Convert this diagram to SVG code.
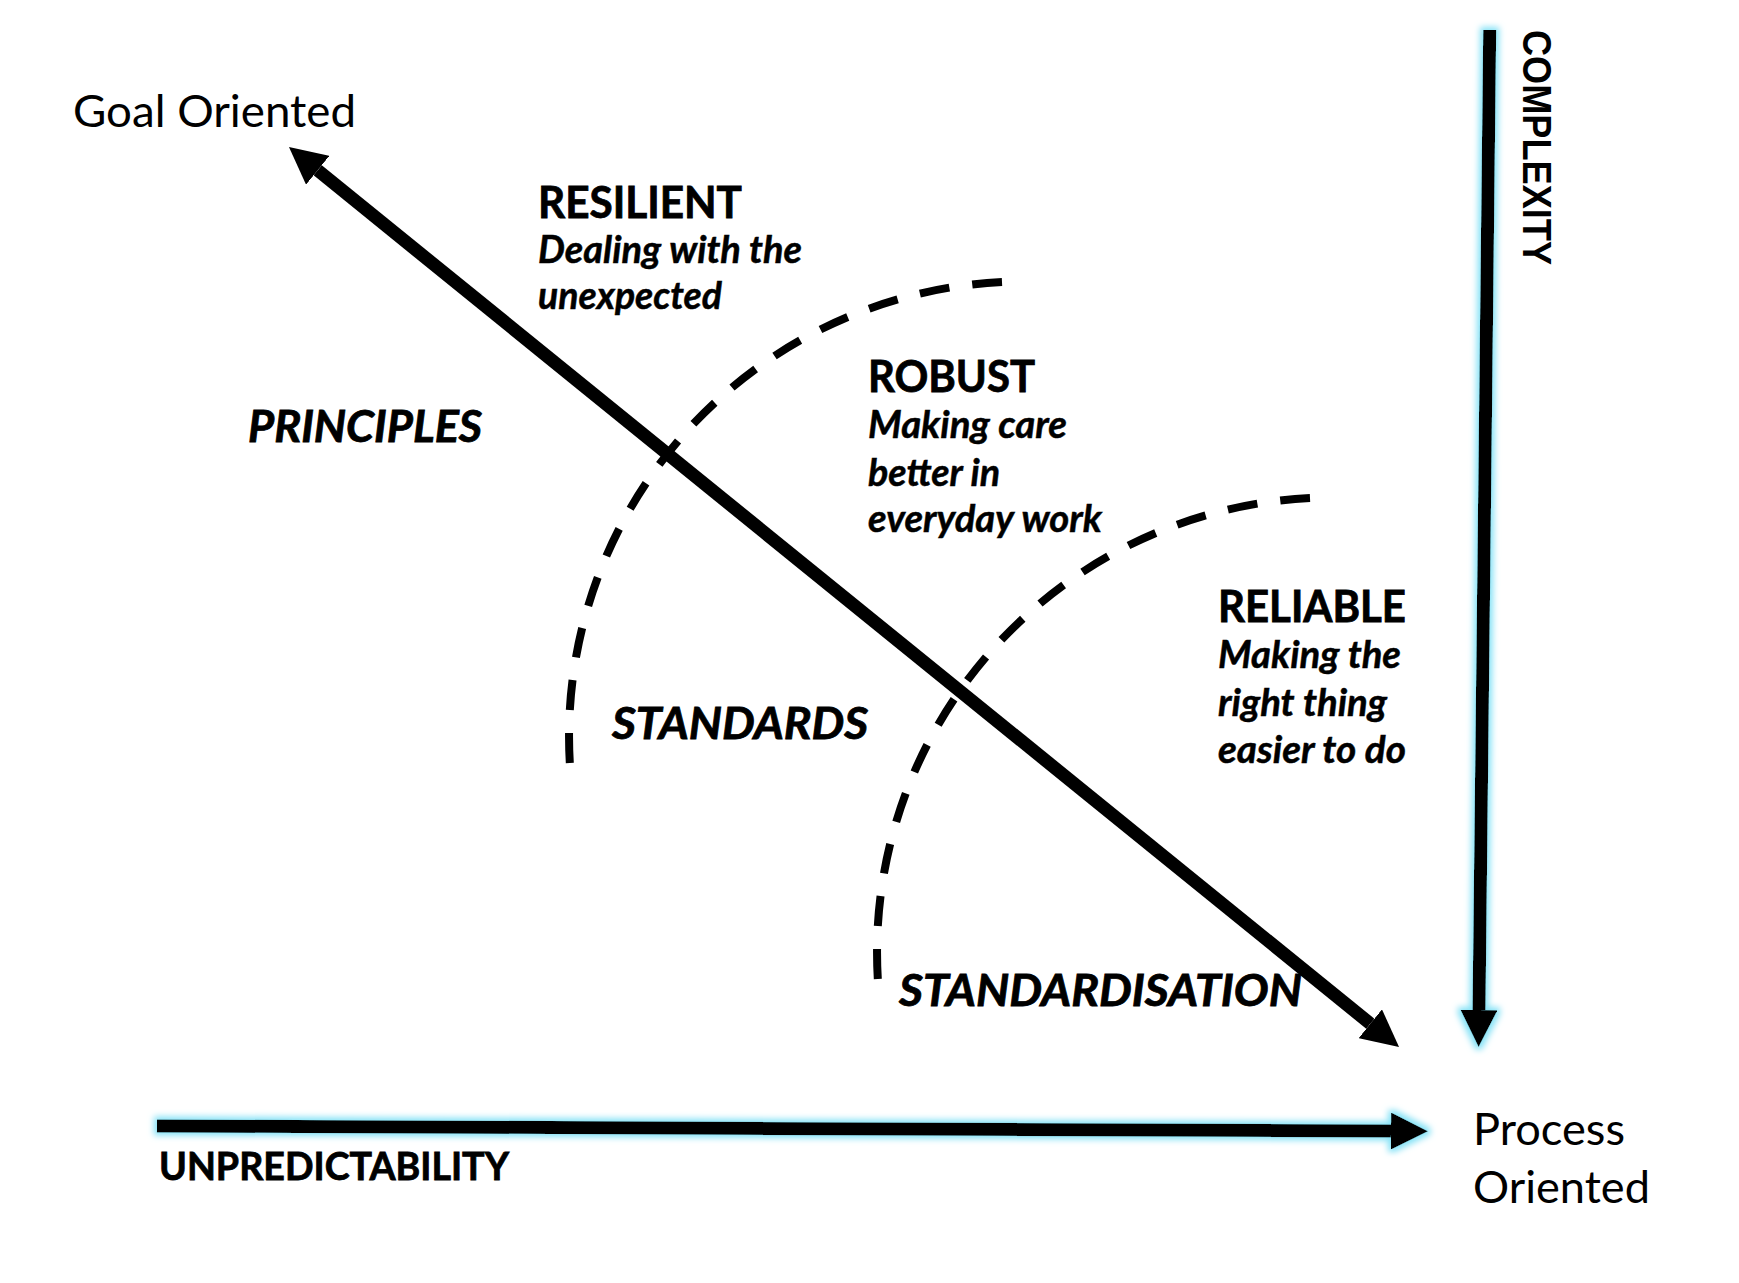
<svg xmlns="http://www.w3.org/2000/svg" width="1739" height="1283" viewBox="0 0 1739 1283">
  <defs>
    <style>
      .t { font-family: Lato, "Open Sans", "Liberation Sans", sans-serif; fill: #000; }
      .reg { font-size: 44px; font-weight: 400; }
      .hdr { font-size: 43px; font-weight: 700; stroke: #000; stroke-width: 0.8px; }
      .sub { font-size: 38px; font-weight: 700; font-style: italic; stroke: #000; stroke-width: 0.5px; }
      .big { font-size: 43px; font-weight: 700; font-style: italic; stroke: #000; stroke-width: 0.8px; }
      .axis { font-family: "Liberation Sans", Arial, sans-serif; font-size: 40px; font-weight: 700; fill: #000; }
      .shaft { stroke: #000; stroke-width: 13; fill: none; stroke-linecap: butt; }
      .arc { stroke: #000; stroke-width: 8; fill: none; stroke-dasharray: 30 23; stroke-linecap: butt; }
    </style>
    <marker id="head" viewBox="0 0 37 37" refX="0" refY="18.5" markerWidth="37" markerHeight="37" markerUnits="userSpaceOnUse" orient="auto-start-reverse">
      <path d="M0,0 L37,18.5 L0,37 Z" fill="#000"/>
    </marker>
    <filter id="glow" filterUnits="userSpaceOnUse" x="0" y="0" width="1739" height="1283">
      <feMorphology in="SourceAlpha" operator="dilate" radius="3" result="d"/>
      <feGaussianBlur in="d" stdDeviation="3" result="b"/>
      <feFlood flood-color="#86e2f6"/>
      <feComposite in2="b" operator="in" result="g"/>
      <feMerge><feMergeNode in="g"/><feMergeNode in="SourceGraphic"/></feMerge>
    </filter>
  </defs>
  <rect width="1739" height="1283" fill="#fff"/>

  <g id="boundaries">
    <path id="arc-resilient-robust" class="arc" d="M1002,282 A455,455 0 0,0 570,766"/>
    <path id="arc-robust-reliable" class="arc" d="M1310,498 A455,455 0 0,0 878,982"/>
  </g>

  <g id="connectors">
    <line id="diag" class="shaft" x1="317.7" y1="170.3" x2="1370.3" y2="1023.7" marker-start="url(#head)" marker-end="url(#head)"/>
    <g filter="url(#glow)">
      <line id="complexity-axis" class="shaft" x1="1489.7" y1="30" x2="1479" y2="1010" marker-end="url(#head)"/>
    </g>
    <g filter="url(#glow)">
      <line id="unpredictability-axis" class="shaft" x1="157" y1="1126" x2="1391" y2="1131" marker-end="url(#head)"/>
    </g>
  </g>

  <g id="goal-oriented">
    <text class="t reg" x="73" y="127" textLength="283" lengthAdjust="spacingAndGlyphs">Goal Oriented</text>
  </g>
  <g id="process-oriented">
    <text class="t reg" x="1473" y="1145" textLength="152" lengthAdjust="spacingAndGlyphs">Process</text>
    <text class="t reg" x="1473" y="1203" textLength="177" lengthAdjust="spacingAndGlyphs">Oriented</text>
  </g>
  <g id="resilient">
    <text class="t hdr" x="538" y="218" textLength="204" lengthAdjust="spacingAndGlyphs">RESILIENT</text>
    <text class="t sub" x="538" y="263" textLength="264" lengthAdjust="spacingAndGlyphs">Dealing with the</text>
    <text class="t sub" x="538" y="309" textLength="184" lengthAdjust="spacingAndGlyphs">unexpected</text>
  </g>
  <g id="principles">
    <text class="t big" x="248" y="442" textLength="234" lengthAdjust="spacingAndGlyphs">PRINCIPLES</text>
  </g>
  <g id="robust">
    <text class="t hdr" x="868" y="392" textLength="167" lengthAdjust="spacingAndGlyphs">ROBUST</text>
    <text class="t sub" x="868" y="438" textLength="199" lengthAdjust="spacingAndGlyphs">Making care</text>
    <text class="t sub" x="868" y="486" textLength="132" lengthAdjust="spacingAndGlyphs">better in</text>
    <text class="t sub" x="868" y="532" textLength="234" lengthAdjust="spacingAndGlyphs">everyday work</text>
  </g>
  <g id="standards">
    <text class="t big" x="612" y="739" textLength="256" lengthAdjust="spacingAndGlyphs">STANDARDS</text>
  </g>
  <g id="reliable">
    <text class="t hdr" x="1218" y="622" textLength="188" lengthAdjust="spacingAndGlyphs">RELIABLE</text>
    <text class="t sub" x="1218" y="668" textLength="183" lengthAdjust="spacingAndGlyphs">Making the</text>
    <text class="t sub" x="1218" y="716" textLength="169" lengthAdjust="spacingAndGlyphs">right thing</text>
    <text class="t sub" x="1218" y="763" textLength="188" lengthAdjust="spacingAndGlyphs">easier to do</text>
  </g>
  <g id="standardisation">
    <text class="t big" x="899" y="1006" textLength="403" lengthAdjust="spacingAndGlyphs">STANDARDISATION</text>
  </g>
  <g id="unpredictability">
    <text class="t hdr" x="159" y="1180" style="font-size:39px" textLength="350" lengthAdjust="spacingAndGlyphs">UNPREDICTABILITY</text>
  </g>
  <g id="complexity">
    <text class="axis" transform="translate(1523,30) rotate(90)" x="0" y="0" textLength="235" lengthAdjust="spacingAndGlyphs">COMPLEXITY</text>
  </g>
</svg>
